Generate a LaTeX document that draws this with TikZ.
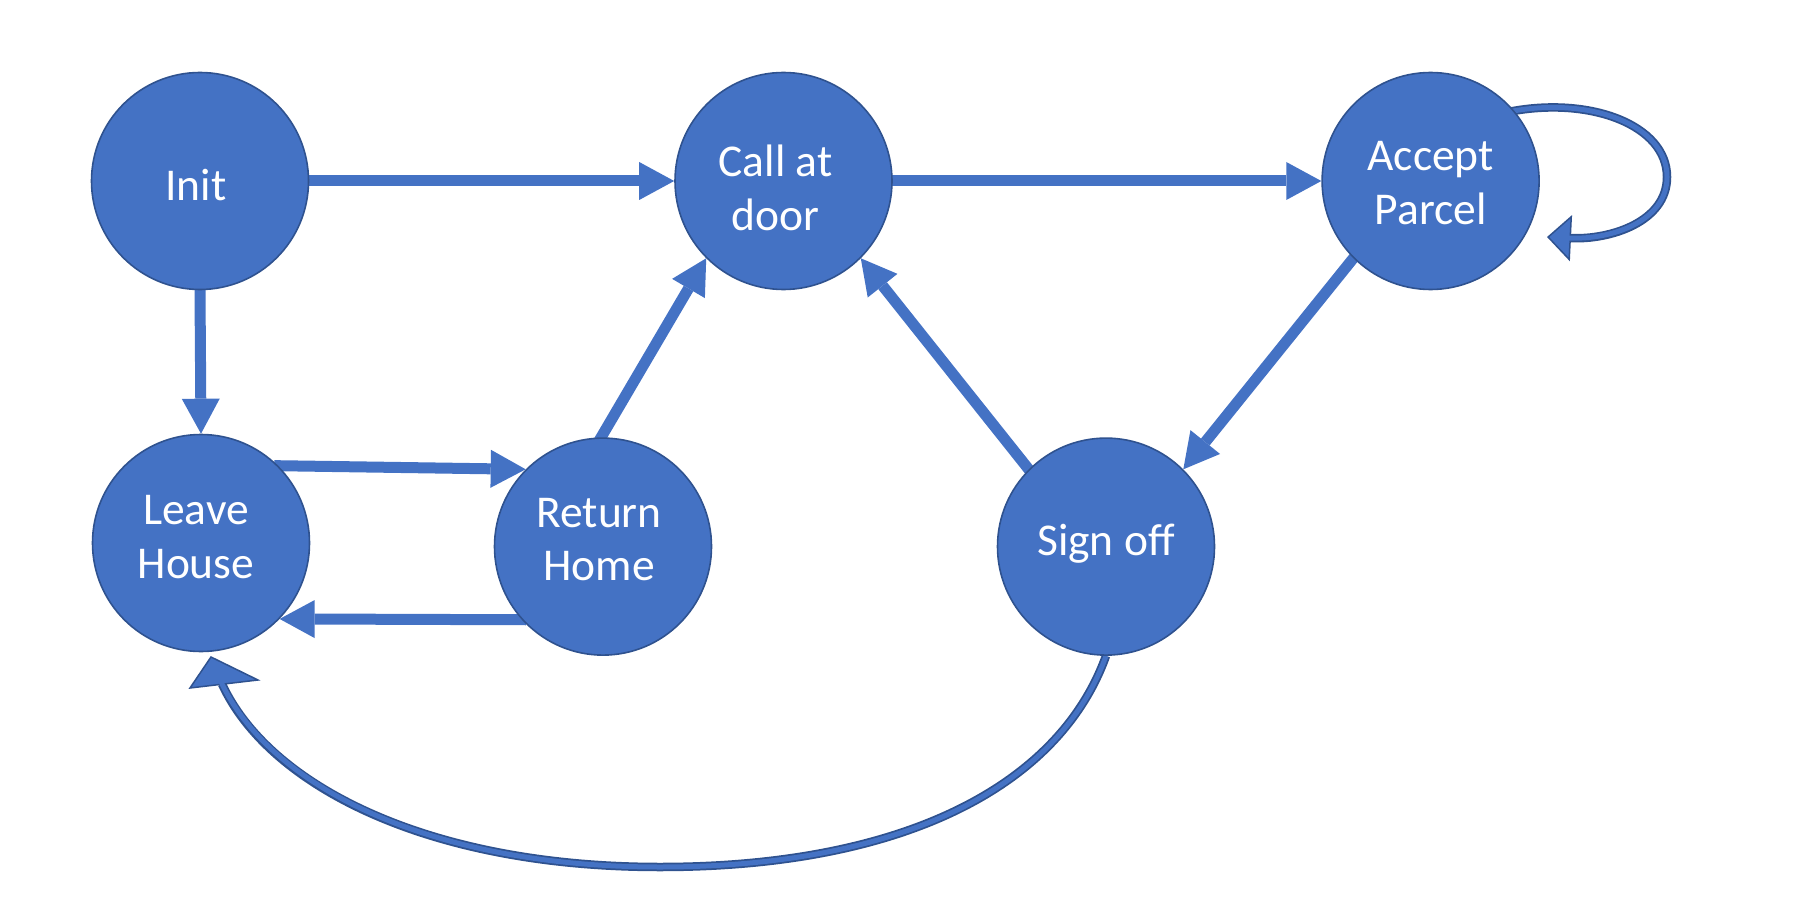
\documentclass[tikz,border=0pt]{standalone}
\usepackage{fontspec}
\setmainfont{Carlito}
\usetikzlibrary{arrows.meta,backgrounds,calc}
\definecolor{cblue}{HTML}{4472C4}
\definecolor{cdark}{HTML}{2F528F}
\begin{document}
\begin{tikzpicture}[x=1pt,y=-1pt,
  state/.style={circle, fill=cblue, draw=cdark, line width=1.6pt, minimum size=217pt, inner sep=0pt},
  txt/.style={text=white, font=\fontsize{45.5pt}{53.5pt}\selectfont, align=center, inner sep=0pt},
  blk/.style={draw=cblue, line width=11pt, shorten <=-4pt, -{Triangle[length=35pt,width=38pt,line width=0pt]}},
  outerline/.style={draw=cdark, line width=8.5pt},
  innerline/.style={draw=cblue, line width=5pt},
  headshape/.style={fill=cblue, draw=cdark, line width=1.5pt, line join=miter}]
\useasboundingbox (0,0) rectangle (1812,920);

\node[state] (init)  at (200,181) {};
\node[state] (call)  at (783.5,181) {};
\node[state] (acc)   at (1430.6,181) {};
\node[state] (leave) at (201,543) {};
\node[state] (ret)   at (603,546.6) {};
\node[state] (sign)  at (1106,546.6) {};

\node[txt] (initT)  at ($(init)+(-4,4)$) {Init};
\node[txt] (callT)  at ($(call)+(-8,7)$) {Call at\\door};
\node[txt] (accT)   at ($(acc)+(0,2)$) {Accept\\Parcel};
\node[txt] (leaveT) at ($(leave)+(-5,-6)$) {Leave\\House};
\node[txt] (retT)   at ($(ret)+(-4,-7)$) {Return\\Home};
\node[txt] (signT)  at ($(sign)+(0,-3)$) {Sign off};

% curved arrow head (Sign off -> Leave House)
\coordinate (headB) at (222,684);
\coordinate (headT) at (211,657);
\coordinate (headL) at (190,688);
\coordinate (headR) at (258,680);
\coordinate (loopE) at (1547,237);

\begin{scope}[on background layer]
  \draw[blk] (init.east) -- (call.west);
  \draw[blk] (call.east) -- (acc.west);
  \draw[blk] (init.south) -- (leave.north);
  \draw[blk] (leave.45) -- (ret.135);
  \draw[blk] (ret.222) -- (leave.316);
  \draw[blk] (ret.91) -- (call.225);
  \draw[blk] (sign.135) -- (call.315);
  \draw[blk] (acc.225) -- (sign.45);

  \draw[outerline]
    (sign.south) .. controls (1059.5,785) and (905,867) .. (660,867)
    .. controls (425,867) and (268,784) .. (headB);
  \draw[headshape] (headT) -- (headL) -- (headR) -- cycle;
  \draw[innerline, shorten >=-3pt]
    (sign.south) .. controls (1059.5,785) and (905,867) .. (660,867)
    .. controls (425,867) and (268,784) .. (headB);

  \draw[outerline, shorten <=-5pt, -{Triangle[length=24pt,width=46pt,line width=1.5pt,fill=cblue]}]
    (acc.40) .. controls (1590,96) and (1667,125) .. (1667,177)
    .. controls (1667,222) and (1610,240) .. (loopE);
  \draw[innerline, shorten <=-5pt, shorten >=22pt]
    (acc.40) .. controls (1590,96) and (1667,125) .. (1667,177)
    .. controls (1667,222) and (1610,240) .. (loopE);
\end{scope}
\end{tikzpicture}
\end{document}
